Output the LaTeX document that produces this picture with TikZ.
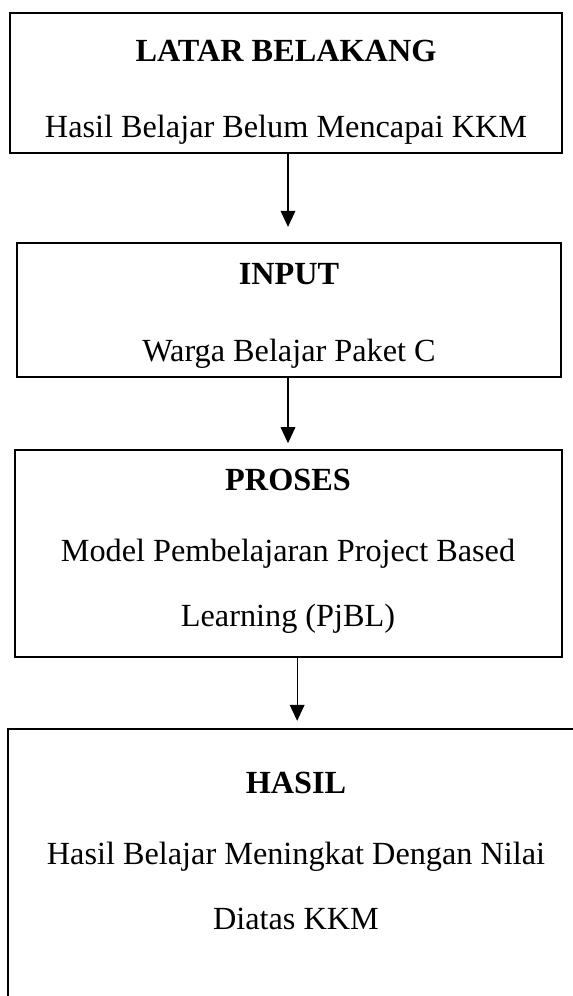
\documentclass[tikz,border=0pt]{standalone}
\usepackage{fontspec}
\setmainfont{Liberation Serif}
\usetikzlibrary{arrows.meta}

\begin{document}
\begin{tikzpicture}[
    x=0.75pt, y=-0.75pt,
    box/.style={rectangle, draw, line width=2.2pt, inner sep=0pt},
    txt/.style={inner sep=0pt, anchor=base, font=\fontsize{24.2}{29}\selectfont},
    head/.style={inner sep=0pt, anchor=base, font=\fontsize{24.2}{29}\selectfont\bfseries},
    flow/.style={-{Triangle[length=12pt,width=11pt]}, line width=0.9pt}
  ]
  \useasboundingbox (0,0) rectangle (573,996);
  \clip (0,0) rectangle (573,996);

  % the four boxes
  \node[box, minimum width=414pt, minimum height=105pt] (latar) at (286,83) {};
  \node[box, minimum width=408pt, minimum height=100.5pt] (input) at (289,310) {};
  \node[box, minimum width=410.25pt, minimum height=155.25pt] (proses) at (288.5,553.5) {};
  \node[box, minimum width=519pt, minimum height=278.25pt] (hasil) at (354,914.5) {};

  % texts
  \node[head] (latarT) at (286,61) {LATAR BELAKANG};
  \node[txt] (latarB) at (286,137) {Hasil Belajar Belum Mencapai KKM};
  \node[head] (inputT) at (289,284) {INPUT};
  \node[txt] (inputB) at (289,361) {Warga Belajar Paket C};
  \node[head] (prosesT) at (288,490) {PROSES};
  \node[txt] (prosesB) at (288,561) {Model Pembelajaran Project Based};
  \node[txt] (prosesC) at (288,626) {Learning (PjBL)};
  \node[head] (hasilT) at (296,793) {HASIL};
  \node[txt] (hasilB) at (296,864) {Hasil Belajar Meningkat Dengan Nilai};
  \node[txt] (hasilC) at (296,929) {Diatas KKM};

  % arrows
  \draw[flow, shorten >=11pt] ([xshift=1.5pt]latar.south) -- ([xshift=1.5pt]latar.south |- input.north);
  \draw[flow, shorten >=4pt] ([xshift=-0.75pt]input.south) -- ([xshift=-0.75pt]input.south |- proses.north);
  \draw[flow, shorten >=5pt] ([xshift=6.5pt]proses.south) -- ([xshift=6.5pt]proses.south |- hasil.north);
\end{tikzpicture}
\end{document}
